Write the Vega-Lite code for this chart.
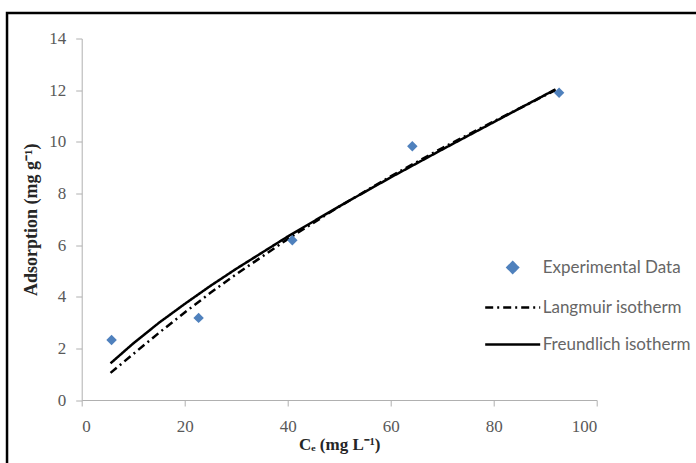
{
  "$schema": "https://vega.github.io/schema/vega-lite/v6.json",
  "autosize": "none",
  "width": 515,
  "height": 361.5,
  "padding": {"left": 81.7, "top": 38.5, "right": 99.3, "bottom": 63},
  "background": "white",
  "config": {
    "view": {"stroke": null},
    "axis": {
      "labelFont": "Liberation Serif",
      "labelFontSize": 17,
      "labelColor": "#595959",
      "titleFont": "Liberation Serif",
      "titleFontWeight": "bold",
      "titleColor": "#262626",
      "domainColor": "#b0b0b0",
      "tickColor": "#b0b0b0",
      "grid": false
    }
  },
  "datasets": {
    "frame": [{}],
    "exp": [
      {"C": 5.8, "q": 2.32, "series": "Experimental Data"},
      {"C": 22.7, "q": 3.18, "series": "Experimental Data"},
      {"C": 40.9, "q": 6.19, "series": "Experimental Data"},
      {"C": 64.2, "q": 9.83, "series": "Experimental Data"},
      {"C": 92.7, "q": 11.9, "series": "Experimental Data"}
    ],
    "fits": [
      {"C": 5.6, "q": 1.05, "series": "Langmuir isotherm"},
      {"C": 10, "q": 1.78, "series": "Langmuir isotherm"},
      {"C": 15, "q": 2.6, "series": "Langmuir isotherm"},
      {"C": 20, "q": 3.39, "series": "Langmuir isotherm"},
      {"C": 25, "q": 4.15, "series": "Langmuir isotherm"},
      {"C": 30, "q": 4.87, "series": "Langmuir isotherm"},
      {"C": 40, "q": 6.23, "series": "Langmuir isotherm"},
      {"C": 50, "q": 7.49, "series": "Langmuir isotherm"},
      {"C": 60, "q": 8.66, "series": "Langmuir isotherm"},
      {"C": 70, "q": 9.76, "series": "Langmuir isotherm"},
      {"C": 80, "q": 10.79, "series": "Langmuir isotherm"},
      {"C": 92, "q": 12.0, "series": "Langmuir isotherm"},
      {"C": 5.6, "q": 1.42, "series": "Freundlich isotherm"},
      {"C": 10, "q": 2.19, "series": "Freundlich isotherm"},
      {"C": 15, "q": 2.99, "series": "Freundlich isotherm"},
      {"C": 20, "q": 3.72, "series": "Freundlich isotherm"},
      {"C": 25, "q": 4.42, "series": "Freundlich isotherm"},
      {"C": 30, "q": 5.08, "series": "Freundlich isotherm"},
      {"C": 40, "q": 6.33, "series": "Freundlich isotherm"},
      {"C": 50, "q": 7.5, "series": "Freundlich isotherm"},
      {"C": 60, "q": 8.62, "series": "Freundlich isotherm"},
      {"C": 70, "q": 9.7, "series": "Freundlich isotherm"},
      {"C": 80, "q": 10.76, "series": "Freundlich isotherm"},
      {"C": 92, "q": 12.03, "series": "Freundlich isotherm"}
    ]
  },
  "layer": [
    {
      "data": {"name": "frame"},
      "mark": {"type": "rect", "filled": false, "stroke": "black", "strokeWidth": 2.5, "clip": false},
      "encoding": {
        "x": {"datum": -14.5, "type": "quantitative", "scale": {"domain": [0, 100], "nice": false, "zero": false}},
        "x2": {"datum": 125},
        "y": {"datum": 14.99, "type": "quantitative", "scale": {"domain": [0, 14], "nice": false, "zero": false}},
        "y2": {"datum": -4}
      }
    },
    {
      "data": {"name": "fits"},
      "mark": {"type": "line", "strokeWidth": 2.5},
      "encoding": {
        "x": {"field": "C", "type": "quantitative",
              "scale": {"domain": [0, 100], "nice": false, "zero": false},
              "axis": {"title": "Cₑ (mg L⁻¹)", "titleFontSize": 17, "values": [0, 20, 40, 60, 80, 100], "tickSize": 6, "labelPadding": 12, "titlePadding": 2}},
        "y": {"field": "q", "type": "quantitative",
              "scale": {"domain": [0, 14], "nice": false, "zero": false},
              "axis": {"title": "Adsorption (mg g⁻¹)", "titleFontSize": 18, "values": [0, 2, 4, 6, 8, 10, 12, 14], "tickSize": 6, "labelPadding": 10, "titlePadding": 8}},
        "color": {"field": "series", "type": "nominal",
                  "scale": {"domain": ["Experimental Data", "Langmuir isotherm", "Freundlich isotherm"], "range": ["#4F81BD", "#000000", "#000000"]},
                  "legend": {"title": null, "orient": "none", "legendX": 402, "legendY": 200,
                             "labelFont": "Lato", "labelFontSize": 17, "labelColor": "#666666",
                             "symbolSize": 3025, "symbolStrokeWidth": 2.5, "rowPadding": -21, "labelOffset": 1}},
        "strokeDash": {"field": "series", "type": "nominal",
                       "scale": {"domain": ["Experimental Data", "Langmuir isotherm", "Freundlich isotherm"], "range": [[1, 0], [8, 4, 2, 4], [1, 0]]},
                       "legend": {"title": null, "orient": "none", "legendX": 402, "legendY": 200}}
      }
    },
    {
      "data": {"name": "exp"},
      "mark": {"type": "point", "filled": true, "opacity": 1, "size": 3025},
      "encoding": {
        "x": {"field": "C", "type": "quantitative"},
        "y": {"field": "q", "type": "quantitative"},
        "color": {"field": "series", "type": "nominal"},
        "shape": {"field": "series", "type": "nominal",
                  "scale": {"domain": ["Experimental Data", "Langmuir isotherm", "Freundlich isotherm"], "range": ["M0,-0.19L0.19,0L0,0.19L-0.19,0Z", "stroke", "stroke"]},
                  "legend": {"title": null, "orient": "none", "legendX": 402, "legendY": 200}}
      }
    }
  ]
}
